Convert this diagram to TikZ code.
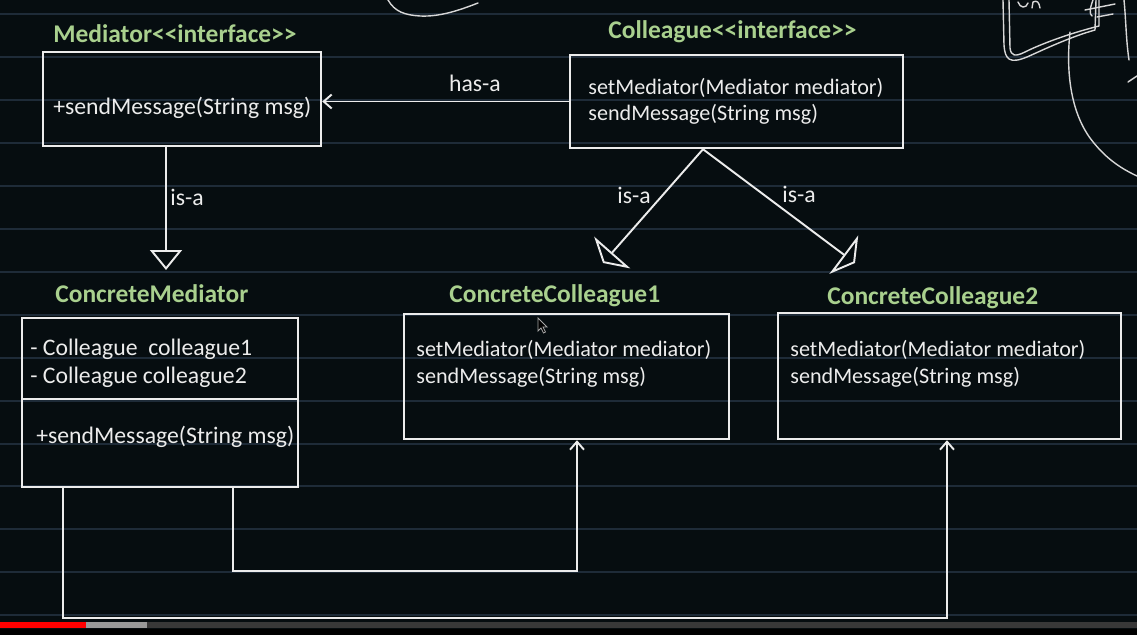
\documentclass[tikz,border=0pt]{standalone}
\usepackage{fontspec}
\newfontfamily\cf{Carlito}
\usetikzlibrary{arrows.meta}
\definecolor{bg}{RGB}{6,13,16}
\definecolor{fg}{RGB}{236,236,236}
\definecolor{ttlgreen}{RGB}{169,208,142}
\definecolor{rule}{RGB}{30,43,56}
\definecolor{ink}{RGB}{215,215,215}
\begin{document}
\begin{tikzpicture}[x=0.02cm,y=-0.02cm,
  umlbox/.style 2 args={draw=fg, line width=1.4pt, minimum width=#1*0.02cm, minimum height=#2*0.02cm, inner sep=0pt},
  txt/.style={anchor=west, inner sep=0pt, text=fg, font=\cf\fontsize{13.5}{16}\selectfont},
  stxt/.style={anchor=west, inner sep=0pt, text=fg, font=\cf\fontsize{12.6}{15}\selectfont},
  lbl/.style={inner sep=0pt, text=fg, font=\cf\fontsize{13.5}{16}\selectfont},
  ttl/.style={anchor=west, inner sep=0pt, text=ttlgreen, font=\cf\bfseries\fontsize{14.5}{17}\selectfont},
  conn/.style={draw=fg, line width=1.1pt},
  hasarrow/.style={conn, -{Straight Barb[length=1.6mm,width=2.8mm]}},
  isav/.style={conn, -{Triangle[open,length=0.4cm,width=0.64cm]}},
  isad/.style={conn, -{Triangle[open,length=0.28cm,width=0.96cm]}},
  scribble/.style={draw=ink, line width=0.8pt, line cap=round, line join=round}
]
\useasboundingbox (0,0) rectangle (1137,635);
\fill[bg] (0,0) rectangle (1137,635);
% notebook rules
\foreach \yy in {14,57,100,143,186,229,272,315,358,401,444,486,529,572,615}
  \draw[rule, line width=0.8pt] (0,\yy) -- (1137,\yy);
% progress bar
\fill[black] (0,629) rectangle (1137,635);
\fill[black!78!white] (0,622) rectangle (1137,628);
\fill[gray!80!white] (0,622) rectangle (147,628);
\fill[red] (0,622) rectangle (86,628);

% scribbles
\draw[scribble] (388,0) .. controls (395,12) and (405,15) .. (420,16) .. controls (440,17) and (460,10) .. (478,3);
\draw[scribble] (1003,0) -- (1004,45) .. controls (1005,60) and (1010,64) .. (1027,57) .. controls (1045,49) and (1070,37) .. (1095,30) -- (1096,0);
\draw[scribble] (1009,0) -- (1010,48) .. controls (1011,56) and (1015,57) .. (1025,52) .. controls (1045,42) and (1075,32) .. (1099,26) -- (1099,0);
\draw[scribble] (1018,2) .. controls (1020,8) and (1026,9) .. (1028,3);
\draw[scribble] (1032,8) -- (1033,2) .. controls (1037,0) and (1039,2) .. (1040,8);
\draw[scribble] (1093,0) .. controls (1090,8) and (1089,14) .. (1092,16);
\draw[scribble] (1085,10) -- (1115,4);
\draw[scribble] (1097,17) -- (1113,14);
\draw[scribble] (1070,32) .. controls (1066,70) and (1070,110) .. (1090,138) .. controls (1105,158) and (1120,168) .. (1137,176);
\draw[scribble] (1124,0) .. controls (1126,20) and (1126,40) .. (1129,60);
\draw[scribble] (1128,82) -- (1137,76);

% boxes
\node[umlbox={278}{94}] (med) at (182,99) {};
\node[umlbox={333}{93}] (col) at (736.5,101.5) {};
\node[umlbox={276}{169}] (cm) at (160,402.5) {};
\node[umlbox={325}{125}] (cc1) at (566.5,376.5) {};
\node[umlbox={343}{126}] (cc2) at (949.5,376) {};
\coordinate (divy) at (0,399);
\draw[draw=fg, line width=1.4pt] (cm.west |- divy) -- (cm.east |- divy);

% titles
\node[ttl] (medt) at (53,34) {Mediator{<}{<}interface{>}{>}};
\node[ttl] (colt) at (608,32) {Colleague{<}{<}interface{>}{>}};
\node[ttl] (cmt) at (55,294) {ConcreteMediator};
\node[ttl] (cc1t) at (449,296) {ConcreteColleague1};
\node[ttl] (cc2t) at (827,298) {ConcreteColleague2};

% members
\node[txt] (medm) at (53,108) {+sendMessage(String msg)};
\node[stxt] (colm1) at (588,88) {setMediator(Mediator mediator)};
\node[stxt] (colm2) at (588,114) {sendMessage(String msg)};
\node[txt] (cma1) at (30,349) {- Colleague\ \ colleague1};
\node[txt] (cma2) at (30,377) {- Colleague colleague2};
\node[txt] (cmm) at (36,437) {+sendMessage(String msg)};
\node[stxt] (cc1m1) at (416,350) {setMediator(Mediator mediator)};
\node[stxt] (cc1m2) at (416,377) {sendMessage(String msg)};
\node[stxt] (cc2m1) at (790,350) {setMediator(Mediator mediator)};
\node[stxt] (cc2m2) at (790,377) {sendMessage(String msg)};

% mouse pointer
\draw[fill=black, draw=gray!70!white, line width=0.5pt] (538,318) -- (538,331) -- (541,328) -- (543.5,333) -- (545.5,332) -- (543,327) -- (547,327) -- cycle;

% has-a
\draw[hasarrow] (col.west) -- (col.west -| med.east);
\node[lbl] (hasa) at (475,83) {has-a};

% is-a vertical
\coordinate (isatip) at (166,270);
\draw[isav] (med.south -| isatip) -- (isatip);
\node[txt] (isa1) at (170,197) {is-a};

% is-a diagonals
\coordinate (dtop) at (703,0);
\coordinate (tipL) at (603,263);
\coordinate (tipR) at (855,263);
\draw[isad] (col.south -| dtop) -- (tipL);
\draw[isad] (col.south -| dtop) -- (tipR);
\node[lbl] (isa2) at (634,195) {is-a};
\node[lbl] (isa3) at (799,194) {is-a};

% bottom connectors
\coordinate (b1) at (233,571);
\coordinate (b2) at (577,571);
\draw[hasarrow] (cm.south -| b1) -- (b1) -- (b2) -- (cc1.south -| b2);
\coordinate (c1) at (63,618);
\coordinate (c2) at (947,618);
\draw[hasarrow] (cm.south -| c1) -- (c1) -- (c2) -- (cc2.south -| c2);
\end{tikzpicture}
\end{document}
